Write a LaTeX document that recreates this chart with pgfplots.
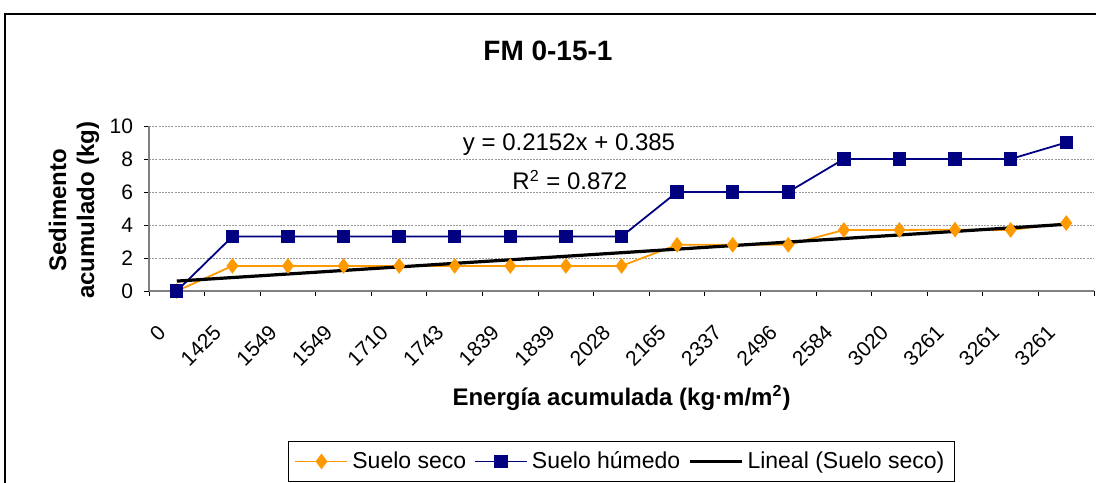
\documentclass[border=0pt]{standalone}
\usepackage{pgfplots}
\pgfplotsset{compat=1.18}
\usepackage{pgfplotstable}
\usepackage{fontspec}
\setmainfont{Liberation Sans}
\definecolor{seco}{RGB}{255,153,0}
\definecolor{humedo}{RGB}{0,0,128}
\definecolor{axgray}{RGB}{128,128,128}

\pgfplotstableread{
x seco humedo
0 0 0
1 1.52 3.3
2 1.52 3.3
3 1.52 3.3
4 1.52 3.3
5 1.52 3.3
6 1.52 3.3
7 1.52 3.3
8 1.52 3.3
9 2.8 6
10 2.8 6
11 2.8 6
12 3.7 8
13 3.7 8
14 3.72 8
15 3.7 8
16 4.12 9
}\datatable

\begin{document}
\begin{tikzpicture}
\draw[black, line width=1pt] (2.5pt,-7pt) rectangle (600pt,-300pt);
\begin{axis}[
  at={(74.5pt,-145.5pt)}, anchor=south west,
  scale only axis, width=472.5pt, height=82.5pt,
  xmin=-0.5, xmax=16.5, ymin=0, ymax=10,
  axis lines*=left,
  axis line style={axgray, line width=0.8pt},
  /pgf/number format/assume math mode=true,
  ytick={0,2,...,10},
  xtick={0,...,16},
  xticklabels={0,1425,1549,1549,1710,1743,1839,1839,2028,2165,2337,2496,2584,3020,3261,3261,3261},
  minor xtick={-0.5,0.5,...,16.5},
  major x tick style={draw=none},
  minor x tick style={black, line width=0.5pt},
  y tick style={black, line width=0.5pt},
  tick align=outside,
  minor tick length=2.5pt, major tick length=2.5pt,
  ymajorgrids,
  grid style={gray!80, line width=0.4pt, dash pattern=on 1pt off 0.6pt},
  tick label style={font=\fontsize{10.5}{12}\selectfont},
  xticklabel style={xshift=-5pt, yshift=-14pt, rotate=45, anchor=east},
  yticklabel style={xshift=-2pt},
  title={\bfseries FM 0-15-1},
  title style={font=\fontsize{14}{16}\selectfont, at={(axis description cs:0.4222,1.38)}, anchor=center},
  xlabel={\bfseries Energía acumulada (kg·m/m\textsuperscript{2})},
  xlabel style={font=\fontsize{12}{14}\selectfont, at={(axis description cs:0.5,-0.6485)}, anchor=center},
  ylabel={\bfseries Sedimento\\\bfseries acumulado (kg)},
  ylabel style={font=\fontsize{12}{14}\selectfont, align=center, at={(axis description cs:-0.0794,0.49)}, anchor=center, rotate=0},
  legend style={at={(axis description cs:0.5,-0.909)}, anchor=north, draw=black, line width=0.5pt,
    font=\fontsize{11.5}{13}\selectfont, legend columns=3, inner sep=3pt,
    /tikz/every even column/.append style={column sep=2pt},
    /tikz/every odd column/.append style={column sep=0pt}},
  legend image code/.code={\draw[mark repeat=2,mark phase=2] plot coordinates {(0pt,0pt) (13pt,0pt) (26pt,0pt)};},
  clip=false,
]
\addplot[seco, line width=0.9pt, mark=diamond*, mark size=3.2pt, mark options={fill=seco, draw=seco}] table[x=x, y=seco] {\datatable};
\addlegendentry{Suelo seco}
\addplot[humedo, line width=0.9pt, mark=square*, mark size=2.9pt, mark options={fill=humedo, draw=humedo}] table[x=x, y=humedo] {\datatable};
\addlegendentry{Suelo húmedo}
\addplot[black, line width=1.6pt, no marks] coordinates {(0,0.6002) (16,4.0434)};
\addlegendentry{Lineal (Suelo seco)}
\node[font=\fontsize{12}{14}\selectfont] at (axis cs:7.056,8.85) {y = 0.2152x + 0.385};
\node[font=\fontsize{12}{14}\selectfont] at (axis cs:7.07,6.73) {R\textsuperscript{2} = 0.872};
\end{axis}
\pgfresetboundingbox
\useasboundingbox (0pt,0pt) rectangle (548pt,-241pt);
\end{tikzpicture}
\end{document}
